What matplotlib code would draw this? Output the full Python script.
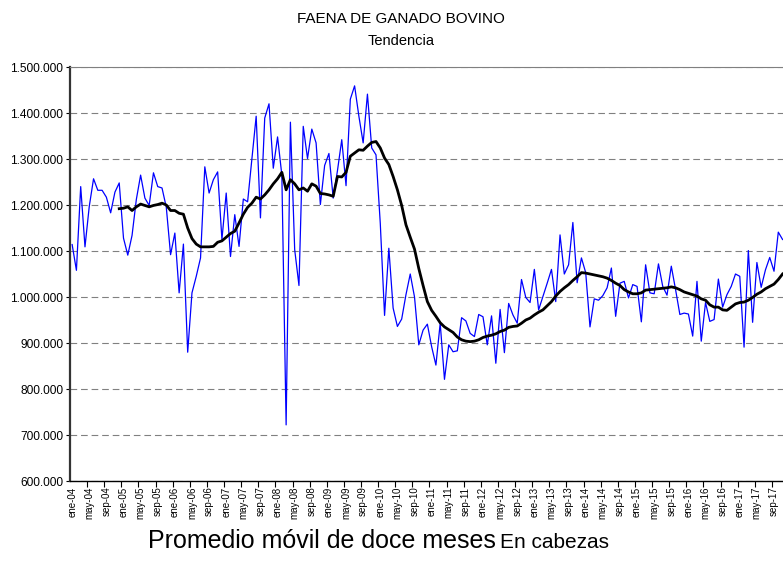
import matplotlib
matplotlib.use("Agg")
import matplotlib.pyplot as plt
from matplotlib.ticker import FuncFormatter
import numpy as np

plt.rcParams['font.family'] = ['Liberation Sans', 'DejaVu Sans']

meses = ['ene', 'feb', 'mar', 'abr', 'may', 'jun', 'jul', 'ago', 'sep', 'oct', 'nov', 'dic']
anios = list(range(2004, 2018))

# faena mensual en miles de cabezas, ene-04 .. nov-17
faena = [
    1114, 1058, 1240, 1109, 1197, 1257, 1232, 1232, 1217, 1183, 1228, 1248,
    1128, 1091, 1134, 1212, 1265, 1215, 1199, 1270, 1240, 1237, 1195, 1092,
    1139, 1009, 1115, 880, 1009, 1045, 1085, 1283, 1226, 1255, 1272, 1125,
    1226, 1088, 1179, 1110, 1213, 1207, 1300, 1393, 1172, 1389, 1420, 1280,
    1348, 1265, 722, 1380, 1103, 1025, 1371, 1301, 1365, 1335, 1201, 1286,
    1312, 1215, 1275, 1342, 1242, 1430, 1459, 1393, 1335, 1441, 1324, 1309,
    1160, 960, 1106, 976, 936, 952, 1005, 1050, 1000, 896, 928, 941,
    892, 852, 943, 821, 896, 881, 883, 955, 948, 921, 914, 962,
    957, 896, 959, 856, 973, 879, 986, 961, 943, 1038, 999, 988,
    1060, 972, 1001, 1030, 1060, 990, 1135, 1050, 1070, 1162, 1031, 1085,
    1053, 935, 996, 993, 1003, 1020, 1063, 958, 1030, 1034, 998, 1027,
    1023, 946, 1070, 1009, 1007, 1072, 1023, 1004, 1067, 1016, 962, 965,
    963, 915, 1034, 904, 988, 947, 951, 1039, 978, 1005, 1023, 1050,
    1045, 891, 1101, 945, 1075, 1021, 1059, 1086, 1056, 1141, 1125,
]

# promedio movil de doce meses, dic-04 .. nov-17
promedio = [
    1192,
    1193, 1196, 1188, 1196, 1202, 1199, 1196, 1199, 1201, 1204, 1200, 1188,
    1188, 1182, 1180, 1150, 1127, 1115, 1109, 1109, 1109, 1110, 1119, 1122,
    1130, 1138, 1143, 1161, 1180, 1195, 1204, 1217, 1213, 1222, 1233, 1246,
    1257, 1271, 1233, 1255, 1246, 1233, 1237, 1230, 1246, 1241, 1225, 1224,
    1222, 1219, 1262, 1261, 1271, 1306, 1313, 1320, 1319, 1328, 1336, 1338,
    1324, 1302, 1288, 1262, 1233, 1199, 1157, 1130, 1104, 1062, 1025, 990,
    971, 958, 944, 935, 929, 923, 913, 907, 904, 903, 904, 907,
    912, 915, 917, 920, 925, 928, 934, 936, 937, 943, 950, 954,
    961, 967, 972, 981, 990, 1002, 1012, 1020, 1027, 1036, 1044, 1053,
    1052, 1050, 1048, 1046, 1044, 1041, 1036, 1030, 1025, 1016, 1011, 1007,
    1007, 1009, 1015, 1016, 1017, 1018, 1019, 1020, 1022, 1020, 1016, 1011,
    1008, 1005, 1002, 996, 993, 983, 978, 978, 972, 971, 978, 985,
    988, 989, 993, 999, 1006, 1011, 1018, 1023, 1028, 1038, 1050,
]

etiquetas = ['%s-%02d' % (m, a % 100) for a in anios for m in meses]

x = np.arange(len(faena))
x_prom = np.arange(len(faena) - len(promedio), len(faena))

fig = plt.figure(figsize=(7.83, 5.74), dpi=100)
ax = fig.add_axes([70 / 783, 1 - 481 / 574, 713 / 783, 414 / 574])

ax.plot(x, np.array(faena) * 1000, color='#0000ff', lw=0.9, zorder=3)
ax.plot(x_prom, np.array(promedio) * 1000, color='black', lw=2.0, zorder=4)

ax.set_ylim(600000, 1500000)
ax.set_xlim(-0.5, 166.1)
ax.set_yticks(np.arange(600000, 1500001, 100000))
ax.yaxis.set_major_formatter(FuncFormatter(lambda v, p: '{:,.0f}'.format(v).replace(',', '.')))
ax.yaxis.grid(True, color='#808080', lw=0.8, ls=(0, (6, 3.5)))
ax.set_axisbelow(True)

ax.set_xticks(x[::4])
ax.set_xticklabels(etiquetas[:len(faena)][::4], rotation=90, fontsize=7)
ax.set_xticks(np.arange(3.5, 166, 4), minor=True)
ax.tick_params(axis='x', which='major', length=0, pad=4)
ax.tick_params(axis='x', which='minor', length=4, width=0.8, direction='out')
ax.tick_params(axis='y', length=3, width=0.8, labelsize=8.6, pad=2)

ax.spines['right'].set_visible(False)
ax.spines['top'].set_color('#808080')
ax.spines['left'].set_linewidth(1.6)
ax.spines['left'].set_color('#333333')
ax.spines['bottom'].set_linewidth(1.0)

fig.text(401 / 783, 1 - 19 / 574, 'FAENA DE GANADO BOVINO', ha='center', va='center', fontsize=11)
fig.text(401 / 783, 1 - 41 / 574, 'Tendencia', ha='center', va='center', fontsize=10.5)
fig.text(148 / 783, 1 - 541 / 574, 'Promedio móvil de doce meses', ha='left', va='center', fontsize=18)
fig.text(500 / 783, 1 - 543 / 574, 'En cabezas', ha='left', va='center', fontsize=15)

fig.savefig('out.png', dpi=100)
